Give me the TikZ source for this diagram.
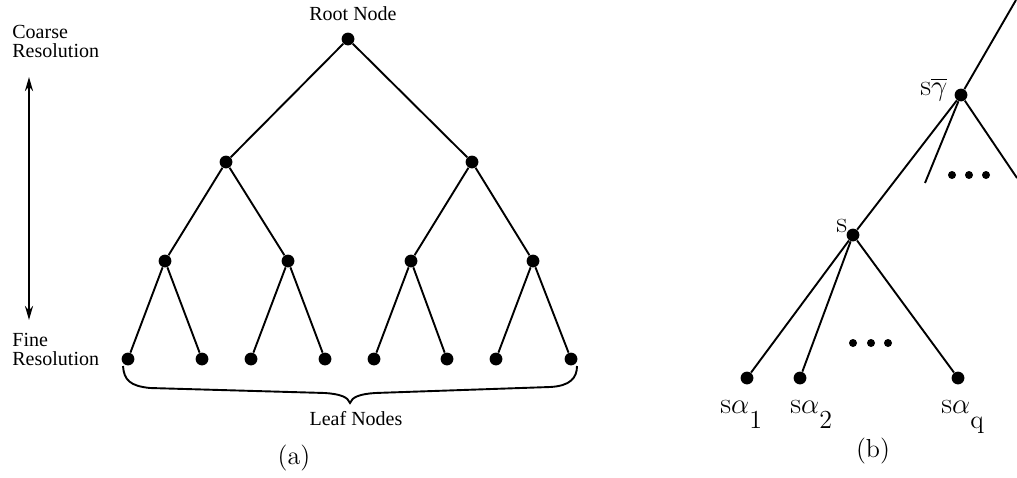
\documentclass[tikz,border=0pt]{standalone}
\usepackage{fontspec}
\newfontfamily\serifrm{Liberation Serif}
\usetikzlibrary{arrows.meta}
% lowered, slightly smaller index used in the child labels
\newcommand\lowsub[1]{\raisebox{-7.5pt}{\fontsize{13}{15}\selectfont$\mathrm{#1}$}}
\begin{document}
\begin{tikzpicture}[x=0.5pt,y=-0.5pt,
  dot/.style={circle,fill,inner sep=0pt,minimum size=6.4pt},
  smalldot/.style={circle,fill,inner sep=0pt,minimum size=4pt},
  edge/.style={line width=0.95pt},
  tlabel/.style={font=\serifrm\fontsize{10}{9.5}\selectfont,inner sep=0pt},
  caption/.style={font=\fontsize{13}{15}\selectfont,inner sep=0pt},
  mlabel/.style={font=\fontsize{15}{17}\selectfont,inner sep=0pt,anchor=base west},
  scaleaxis/.style={line width=1.3pt,{Stealth[length=7pt,width=4pt]}-{Stealth[length=7pt,width=4pt]}}
]
\useasboundingbox (0,0) rectangle (1017,477);

% ---------- (a) binary hierarchy ----------
\node[dot] (r)  at (348,39) {};
\node[dot] (a1) at (226,162) {};
\node[dot] (a2) at (472,162) {};
\node[dot] (b1) at (165,261) {};
\node[dot] (b2) at (288,261) {};
\node[dot] (b3) at (411,261) {};
\node[dot] (b4) at (533,261) {};
\node[dot] (l1) at (128,359) {};
\node[dot] (l2) at (202,359) {};
\node[dot] (l3) at (251,359) {};
\node[dot] (l4) at (325,359) {};
\node[dot] (l5) at (374,359) {};
\node[dot] (l6) at (447,359) {};
\node[dot] (l7) at (496,359) {};
\node[dot] (l8) at (571,359) {};

\draw[edge] (r) -- (a1);
\draw[edge] (r) -- (a2);
\draw[edge] (a1) -- (b1);
\draw[edge] (a1) -- (b2);
\draw[edge] (a2) -- (b3);
\draw[edge] (a2) -- (b4);
\draw[edge] (b1) -- (l1);
\draw[edge] (b1) -- (l2);
\draw[edge] (b2) -- (l3);
\draw[edge] (b2) -- (l4);
\draw[edge] (b3) -- (l5);
\draw[edge] (b3) -- (l6);
\draw[edge] (b4) -- (l7);
\draw[edge] (b4) -- (l8);

\node[tlabel,anchor=base] (rootlbl) at (353,20) {Root Node};
\node[tlabel,anchor=north west,align=left] (coarse) at (12,25) {Coarse\\Resolution};
\node[tlabel,anchor=north west,align=left] (fine) at (12,333) {Fine\\Resolution};

\coordinate (axtop) at (29,77);
\coordinate (axbot) at (29,320);
\draw[scaleaxis] (axtop) -- (axbot);

% brace under the leaves
\coordinate (bl) at (123,366);
\coordinate (br) at (577,366);
\draw[edge] (bl) .. controls (124,380) and (130,386) .. (150,388)
  -- (325,393) .. controls (340,394) and (348,397) .. (350,403)
  .. controls (352,397) and (360,394) .. (375,393)
  -- (550,387) .. controls (570,386) and (577,378) .. (br);
\node[tlabel,anchor=base] (leaflbl) at (356,425) {Leaf Nodes};
\node[caption] (capa) at (294,458) {(a)};

% ---------- (b) generic node with parent and children ----------
\node[dot] (sg) at (961,95) {};
\node[dot] (s)  at (853,235) {};
\node[dot] (c1) at (747,378) {};
\node[dot] (c2) at (800,378) {};
\node[dot] (cq) at (958,378) {};
\coordinate (up) at (1016,0);
\coordinate (stub) at (925,183);
\coordinate (rt) at (1017,178);

\draw[edge] (sg) -- (up);
\draw[edge] (sg) -- (s);
\draw[edge] (sg) -- (stub);
\draw[edge] (sg) -- (rt);
\draw[edge] (s) -- (c1);
\draw[edge] (s) -- (c2);
\draw[edge] (s) -- (cq);

\node[smalldot] (d1) at (952,175) {};
\node[smalldot] (d2) at (969,175) {};
\node[smalldot] (d3) at (986,175) {};
\node[smalldot] (e1) at (853,343) {};
\node[smalldot] (e2) at (871,343) {};
\node[smalldot] (e3) at (888,343) {};

\node[mlabel] (sglbl) at (920,95) {$\mathrm{s}\overline{\gamma}$};
\node[mlabel] (slbl) at (836,232) {$\mathrm{s}$};
\node[mlabel] (c1lbl) at (720,413) {$\mathrm{s}\alpha$\lowsub{1}};
\node[mlabel] (c2lbl) at (790,413) {$\mathrm{s}\alpha$\lowsub{2}};
\node[mlabel] (cqlbl) at (941,413) {$\mathrm{s}\alpha$\lowsub{q}};
\node[caption] (capb) at (873,451) {(b)};
\end{tikzpicture}
\end{document}
